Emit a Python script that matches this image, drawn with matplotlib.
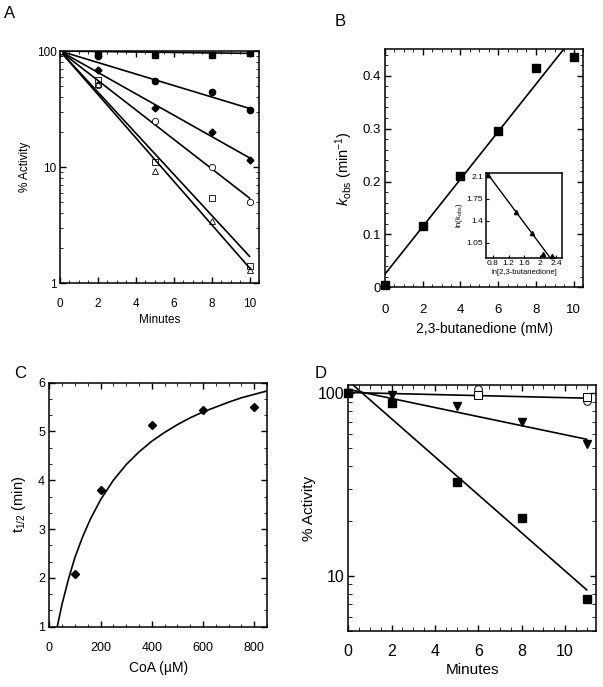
import matplotlib
matplotlib.use("Agg")
import matplotlib.pyplot as plt
import matplotlib.ticker as mticker

plt.rcParams["font.family"] = ["Liberation Sans", "DejaVu Sans"]
plt.rcParams["mathtext.fontset"] = "custom"
plt.rcParams["mathtext.rm"] = "Liberation Sans"
plt.rcParams["mathtext.it"] = "Liberation Sans:italic"
plt.rcParams["xtick.direction"] = "in"
plt.rcParams["ytick.direction"] = "in"
plt.rcParams["xtick.top"] = True
plt.rcParams["ytick.right"] = True

# Panel A: % activity vs time
a_minutes = [0, 2, 5, 8, 10]
a_sq_filled = [100, 96, 93, 93, 97]
a_circ_filled = [100, 90, 55, 44, 31]
a_diam_filled = [100, 68, 32, 20, 11.5]
a_circ_open = [100, 51, 25, 10, 5]
a_sq_open = [100, 56, 11, 5.4, 1.4]
a_tri_open = [100, 52, 9.2, 3.4, 1.3]
# fitted lines: value at 0 and at 10 min
a_fit_x = [0, 10]
a_fits = [[100, 95.5], [100, 32], [100, 12], [100, 5.4], [100, 1.7], [100, 1.35]]

# Panel B: kobs vs 2,3-butanedione
b_conc = [0, 2, 4, 6, 8, 10]
b_kobs = [0.004, 0.116, 0.211, 0.296, 0.414, 0.435]
b_fit_x = [0, 9.47]
b_fit_y = [0.025, 0.45]
# inset: ln(kobs) vs ln[2,3-butanedione]
inset_x = [0.69, 1.38, 1.80, 2.08, 2.30]
inset_y = [2.126, 1.534, 1.21, 0.866, 0.83]
inset_fit_x = [0.66, 2.25]
inset_fit_y = [2.154, 0.81]

# Panel C: t1/2 vs CoA
c_coa = [100, 200, 400, 600, 800]
c_thalf = [2.07, 3.81, 5.13, 5.45, 5.50]
c_curve_x = [31, 50, 75, 100, 130, 160, 200, 250, 300, 350, 400, 450,
             500, 550, 600, 650, 700, 750, 800, 850]
c_curve_y = [1.0, 1.47, 1.98, 2.42, 2.84, 3.2, 3.6, 4.0, 4.32, 4.58, 4.8, 4.98,
             5.14, 5.28, 5.4, 5.5, 5.6, 5.69, 5.76, 5.83]

# Panel D: % activity vs time
d_minutes = [0, 2, 5, 8, 11]
d_sq_filled = [100, 88.9, 32.5, 20.8, 7.46]
d_tri_filled = [100, 98, 85, 69.8, 52.7]
d_open_x = [6, 11]
d_sq_open = [98, 95.8]
d_circ_open = [105, 91.1]
d_fit_x = [0, 11]
d_fits = [[117, 8.4], [105, 56], [101, 94]]

fig = plt.figure(figsize=(6.03, 6.87), dpi=100)
lw = 1.2

# ---------------- Panel A ----------------
axA = fig.add_axes([0.0995, 0.588, 0.330, 0.3377])
for fy in a_fits:
    axA.plot(a_fit_x, fy, color="black", lw=lw)
axA.plot(a_minutes, a_sq_filled, "s", color="black", ms=4.5)
axA.plot(a_minutes, a_circ_filled, "o", color="black", ms=4.5)
axA.plot(a_minutes, a_diam_filled, "D", color="black", ms=3.5)
axA.plot(a_minutes, a_circ_open, "o", mfc="white", mec="black", mew=0.6, ms=4.5)
axA.plot(a_minutes, a_sq_open, "s", mfc="none", mec="black", mew=0.6, ms=5)
axA.plot(a_minutes, a_tri_open, "^", mfc="none", mec="black", mew=0.6, ms=4.5)
axA.set_yscale("log")
axA.set_xlim(0, 10.5)
axA.set_ylim(1, 100)
axA.set_xticks([0, 2, 4, 6, 8, 10])
axA.xaxis.set_minor_locator(mticker.MultipleLocator(0.5))
axA.yaxis.set_major_formatter(mticker.FormatStrFormatter("%g"))
axA.tick_params(labelsize=8.5, width=1, length=4)
axA.tick_params(axis="x", pad=11)
axA.tick_params(axis="y", pad=2.5)
axA.tick_params(which="minor", length=2.5)
axA.set_xlabel("Minutes", fontsize=8.5, labelpad=3)
axA.set_ylabel("% Activity", fontsize=8.5, labelpad=4)

# ---------------- Panel B ----------------
axB = fig.add_axes([0.6385, 0.5818, 0.3284, 0.3464])
axB.plot(b_fit_x, b_fit_y, color="black", lw=lw)
axB.plot(b_conc, b_kobs, "s", color="black", ms=5.5, clip_on=False)
axB.set_xlim(0, 10.5)
axB.set_ylim(0, 0.45)
axB.set_xticks([0, 2, 4, 6, 8, 10])
axB.set_yticks([0, 0.1, 0.2, 0.3, 0.4])
axB.xaxis.set_minor_locator(mticker.MultipleLocator(0.5))
axB.yaxis.set_minor_locator(mticker.MultipleLocator(0.02))
axB.yaxis.set_major_formatter(mticker.FormatStrFormatter("%g"))
axB.tick_params(labelsize=9.5, width=1, length=4)
axB.tick_params(axis="x", pad=12)
axB.tick_params(axis="y", pad=3)
axB.tick_params(which="minor", length=2.5)
axB.set_xlabel("2,3-butanedione (mM)", fontsize=10, labelpad=4)
axB.set_ylabel(r"$k_{\rm obs}$ (min$^{-1}$)", fontsize=10.5, labelpad=5)

axI = fig.add_axes([0.806, 0.6249, 0.126, 0.1229])
axI.plot(inset_fit_x, inset_fit_y, color="black", lw=1.0)
axI.plot(inset_x, inset_y, "^", color="black", ms=3, clip_on=False)
axI.set_xlim(0.63, 2.55)
axI.set_ylim(0.81, 2.155)
axI.set_xticks([0.8, 1.2, 1.6, 2.0, 2.4])
axI.set_yticks([1.05, 1.4, 1.75, 2.1])
axI.xaxis.set_major_formatter(mticker.FormatStrFormatter("%g"))
axI.yaxis.set_major_formatter(mticker.FormatStrFormatter("%g"))
axI.tick_params(labelsize=6, length=2.5, width=0.8, pad=2, top=False, right=False)
axI.set_xlabel("ln[2,3-butanedione]", fontsize=5.5, labelpad=1)
axI.set_ylabel(r"ln(k$_{\rm obs}$)", fontsize=5.5, labelpad=1)

# ---------------- Panel C ----------------
axC = fig.add_axes([0.0818, 0.0878, 0.361, 0.3552])
axC.plot(c_curve_x, c_curve_y, color="black", lw=lw)
axC.plot(c_coa, c_thalf, "D", color="black", ms=4)
axC.set_xlim(0, 850)
axC.set_ylim(1, 6)
axC.set_xticks([0, 200, 400, 600, 800])
axC.set_yticks([1, 2, 3, 4, 5, 6])
axC.xaxis.set_minor_locator(mticker.MultipleLocator(50))
axC.yaxis.set_minor_locator(mticker.MultipleLocator(1 / 3))
axC.tick_params(labelsize=9, width=1, length=4)
axC.tick_params(axis="x", pad=11)
axC.tick_params(axis="y", pad=3)
axC.tick_params(which="minor", length=2.5)
axC.set_xlabel("CoA (\u00b5M)", fontsize=10, labelpad=5)
axC.set_ylabel("t$_{1/2}$ (min)", fontsize=10.5, labelpad=7)

# ---------------- Panel D ----------------
axD = fig.add_axes([0.5776, 0.0815, 0.4108, 0.3581])
for fy in d_fits:
    axD.plot(d_fit_x, fy, color="black", lw=lw)
axD.plot(d_minutes, d_sq_filled, "s", color="black", ms=6, clip_on=False)
axD.plot(d_minutes, d_tri_filled, "v", color="black", ms=6, clip_on=False)
axD.plot(d_open_x, d_circ_open, "o", mfc="white", mec="black", mew=0.7, ms=5.5, clip_on=False)
axD.plot(d_open_x, d_sq_open, "s", mfc="white", mec="black", mew=0.7, ms=5.5, clip_on=False)
axD.set_yscale("log")
axD.set_xlim(0, 11.43)
axD.set_ylim(5, 111)
axD.set_xticks([0, 2, 4, 6, 8, 10])
axD.xaxis.set_minor_locator(mticker.MultipleLocator(0.5))
axD.yaxis.set_major_formatter(mticker.FormatStrFormatter("%g"))
axD.yaxis.set_minor_formatter(mticker.NullFormatter())
axD.tick_params(labelsize=11.5, width=1, length=4.5)
axD.tick_params(axis="x", pad=9)
axD.tick_params(axis="y", pad=3)
axD.tick_params(which="minor", length=3)
axD.set_xlabel("Minutes", fontsize=11, labelpad=3)
axD.set_ylabel("% Activity", fontsize=11, labelpad=1)

for ax in (axA, axB, axI, axC, axD):
    for s in ax.spines.values():
        s.set_linewidth(1.1)

fig.text(0.0166, 0.981, "A", fontsize=12, ha="center", va="center")
fig.text(0.564, 0.968, "B", fontsize=12, ha="center", va="center")
fig.text(0.033, 0.457, "C", fontsize=12, ha="center", va="center")
fig.text(0.531, 0.457, "D", fontsize=12, ha="center", va="center")

fig.savefig("out.png", dpi=100)
